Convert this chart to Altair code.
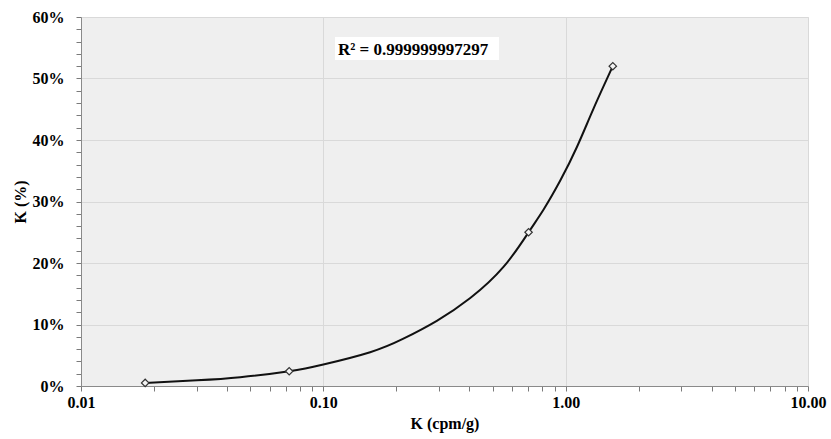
import altair as alt
import pandas as pd

# Measured data points (diamond markers)
point_x = [0.0184, 0.0723, 0.703, 1.565]
point_y = [0.005, 0.024, 0.25, 0.52]

# Trend line at several positions
curve_x = [0.0184, 0.0301, 0.0454, 0.0723, 0.100, 0.156, 0.214, 0.294,
           0.404, 0.555, 0.703, 0.811, 0.950, 1.114, 1.303, 1.565]
curve_y = [0.005, 0.0092, 0.0142, 0.024, 0.035, 0.055, 0.077, 0.106,
           0.143, 0.194, 0.250, 0.287, 0.334, 0.389, 0.451, 0.520]

# Axis tick values
x_ticks = [0.01, 0.02, 0.03, 0.04, 0.05, 0.06, 0.07, 0.08, 0.09,
           0.1, 0.2, 0.3, 0.4, 0.5, 0.6, 0.7, 0.8, 0.9,
           1, 2, 3, 4, 5, 6, 7, 8, 9, 10]
y_ticks = [i / 100 for i in range(0, 62, 2)]

r2_label = ["R² = 0.999999997297"]

FONT = "Liberation Serif"

points_df = pd.DataFrame({"x": point_x, "y": point_y})
curve_df = pd.DataFrame({"x": curve_x, "y": curve_y})

is_decade = "abs(log(datum.value)/LN10 - round(log(datum.value)/LN10)) < 0.001"
is_ten = "round(datum.value*100) % 10 === 0"

x_enc = alt.X(
    "x:Q",
    scale=alt.Scale(type="log", domain=[0.01, 10], nice=False),
    axis=alt.Axis(
        title="K (cpm/g)",
        values=x_ticks,
        labelExpr=f"({is_decade}) ? format(datum.value, '.2f') : ''",
        labelOverlap=False,
        labelFlush=False,
        labelBound=False,
        gridOpacity={"condition": {"test": is_decade, "value": 1}, "value": 0},
        ticks=True,
        tickSize=5,
        labelPadding=3,
        titlePadding=5,
    ),
)

y_enc = alt.Y(
    "y:Q",
    scale=alt.Scale(domain=[0, 0.6], nice=False),
    axis=alt.Axis(
        title="K (%)",
        values=y_ticks,
        labelExpr=f"({is_ten}) ? format(datum.value, '.0%') : ''",
        labelOverlap=False,
        gridOpacity={"condition": {"test": is_ten, "value": 1}, "value": 0},
        ticks=True,
        tickSize=5,
        labelPadding=12,
        titlePadding=4,
    ),
)

line = alt.Chart(curve_df).mark_line(
    color="#111111", strokeWidth=2, interpolate="natural"
).encode(x=x_enc, y=y_enc)

pts = alt.Chart(points_df).mark_point(
    shape="diamond", size=55, filled=True, fill="#f4f4f4",
    stroke="#333333", strokeWidth=1.2, opacity=1
).encode(x=x_enc, y=y_enc)

box = alt.Chart(pd.DataFrame({"t": r2_label})).mark_rect(
    color="white"
).encode(x=alt.value(254), x2=alt.value(418), y=alt.value(20), y2=alt.value(43))

label = alt.Chart(pd.DataFrame({"t": r2_label})).mark_text(
    font=FONT, fontSize=17, fontWeight="bold", align="left",
    baseline="alphabetic", color="black"
).encode(x=alt.value(257), y=alt.value(38), text="t:N")

chart = alt.layer(line, pts, box, label).properties(
    width=727,
    height=369,
    autosize=alt.AutoSizeParams(type="none"),
    padding={"left": 81, "top": 17, "right": 23, "bottom": 53},
    background="white",
).configure_view(
    fill="#efefef", stroke="#e2e2e2"
).configure_axis(
    labelFont=FONT, labelFontSize=16, labelFontWeight="bold", labelColor="black",
    titleFont=FONT, titleFontSize=16, titleFontWeight="bold", titleColor="black",
    domainColor="#8a8a8a", tickColor="#7a7a7a", gridColor="#d9d9d9",
    gridWidth=1, domainWidth=1, tickWidth=1,
)

chart.save("out.html", embed_options={"renderer": "svg", "actions": False})
